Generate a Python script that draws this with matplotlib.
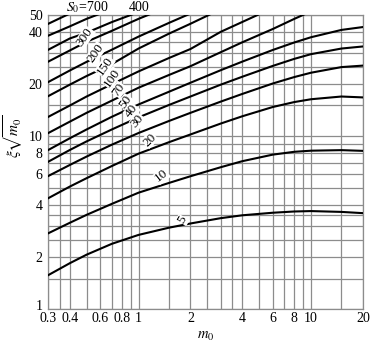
import numpy as np
import matplotlib
matplotlib.use("Agg")
import matplotlib.pyplot as plt
from matplotlib.transforms import ScaledTranslation

plt.rcParams['font.family'] = ['Liberation Serif', 'DejaVu Serif']
plt.rcParams['mathtext.fontset'] = 'stix'

# m0 sample points (x)
m0 = [0.3, 0.4, 0.5, 0.7, 1, 1.5, 2, 3, 4, 6, 8, 10, 15, 20]

# xi*sqrt(m0) read for each S0 curve
curves = {
    5:   [1.57, 1.84, 2.06, 2.38, 2.68, 2.95, 3.12, 3.35, 3.48, 3.60, 3.66, 3.68, 3.64, 3.58],
    10:  [2.74, 3.15, 3.50, 4.05, 4.70, 5.35, 5.85, 6.60, 7.15, 7.80, 8.10, 8.22, 8.28, 8.20],
    20:  [4.37, 5.10, 5.70, 6.70, 7.90, 9.20, 10.2, 11.8, 13.0, 14.7, 15.7, 16.3, 16.9, 16.7],
    30:  [5.87, 6.80, 7.60, 8.90, 10.4, 12.2, 13.6, 15.8, 17.5, 20.1, 21.9, 23.2, 25.0, 25.5],
    40:  [7.10, 8.30, 9.30, 10.9, 12.8, 15.1, 16.9, 19.8, 22.0, 25.4, 27.9, 29.7, 32.0, 32.9],
    50:  [8.30, 9.70, 10.9, 12.9, 15.2, 18.0, 20.3, 24.0, 26.9, 31.4, 34.7, 37.2, 41.0, 42.6],
    70:  [10.4, 12.1, 13.6, 16.0, 19.0, 22.5, 25.3, 30.5, 34.8, 41.5, 47.5, 52.5],
    100: [12.9, 15.0, 16.9, 19.9, 23.6, 28.2, 31.8, 40.0, 45.6, 54.9],
    150: [17.0, 19.8, 22.2, 26.0, 32.0, 39.0, 44.5, 54.0],
    200: [20.5, 23.9, 26.8, 31.5, 37.5, 45.0, 51.0],
    300: [26.9, 31.2, 35.0, 40.5, 47.5, 56.0],
    400: [31.5, 36.6, 39.5, 45.5, 52.0],
    500: [38.0, 43.0, 47.5, 54.0],
    700: [44.5, 51.0],
}

# curve label positions (m0, value) and rotation
label_pos = {
    300: (0.489, 37.3, 55), 200: (0.566, 30.2, 55), 150: (0.638, 25.3, 55),
    100: (0.70, 21.6, 55), 70: (0.768, 18.5, 55), 50: (0.843, 15.7, 55),
    40: (0.913, 13.9, 52), 30: (0.99, 12.2, 50), 20: (1.16, 9.5, 45),
    10: (1.36, 5.87, 38), 5: (1.8, 3.27, 60),
}

xticks = [0.3, 0.4, 0.6, 0.8, 1, 2, 4, 6, 8, 10, 20]
xticklabels = ['0.3', '0.4', '0.6', '0.8', '1', '2', '4', '6', '8', '10', '20']
xminor = [0.35, 0.5, 0.7, 0.9, 1.5, 2.5, 3, 3.5, 5, 7, 9, 15]
yticks = [1, 2, 4, 6, 8, 10, 20, 40, 50]
yticklabels = ['1', '2', '4', '6', '8', '10', '20', '40', '50']
yminor = [1.5, 2.5, 3, 3.5, 5, 7, 9, 15, 25, 30, 35]

fig = plt.figure(figsize=(3.71, 3.49), dpi=100)
ax = fig.add_axes([48.3/371, 1-309/349, (363-48.3)/371, (309-15)/349])
ax.set_xscale('log')
ax.set_yscale('log')
ax.set_xlim(0.3, 20)
ax.set_ylim(1, 50)

ax.set_xticks(xticks)
ax.set_xticklabels(xticklabels, fontsize=10)
ax.set_xticks(xminor, minor=True)
ax.set_xticklabels([], minor=True)
ax.set_yticks(yticks)
ax.set_yticklabels(yticklabels, fontsize=10)
ax.set_yticks(yminor, minor=True)
ax.set_yticklabels([], minor=True)
ax.tick_params(which='both', length=0, pad=2)
ax.tick_params(axis='y', pad=4)
ax.grid(which='both', color='#8c8c8c', linewidth=0.9)
for s in ax.spines.values():
    s.set_color('#8c8c8c')
    s.set_linewidth(0.9)

# lift the "1" label slightly, as in the reference
ylab1 = ax.get_yticklabels()[0]
ylab1.set_transform(ylab1.get_transform() + ScaledTranslation(0, 4/100, fig.dpi_scale_trans))

for s0, vals in curves.items():
    ax.plot(m0[:len(vals)], vals, color='black', linewidth=1.5, clip_on=True, zorder=3)

for s0, (mx, vy, rot) in label_pos.items():
    ax.text(mx, vy, str(s0), fontsize=9.5, rotation=rot, ha='center', va='center',
            zorder=4, bbox=dict(facecolor='white', edgecolor='none', pad=0.2))

ax.text(0.125, 1.012, r'$S_0$=700', transform=ax.transAxes, fontsize=10, ha='center', va='baseline')
ax.text(0.29, 1.012, '400', transform=ax.transAxes, fontsize=10, ha='center', va='baseline')

ax.set_xlabel(r'$m_0$', fontsize=10.5, labelpad=4)
ax.set_ylabel(r'$\xi\sqrt{m_0}$', fontsize=11)
ax.yaxis.set_label_coords(-0.075, 0.59)

fig.savefig('out.png', dpi=100, facecolor='white')
